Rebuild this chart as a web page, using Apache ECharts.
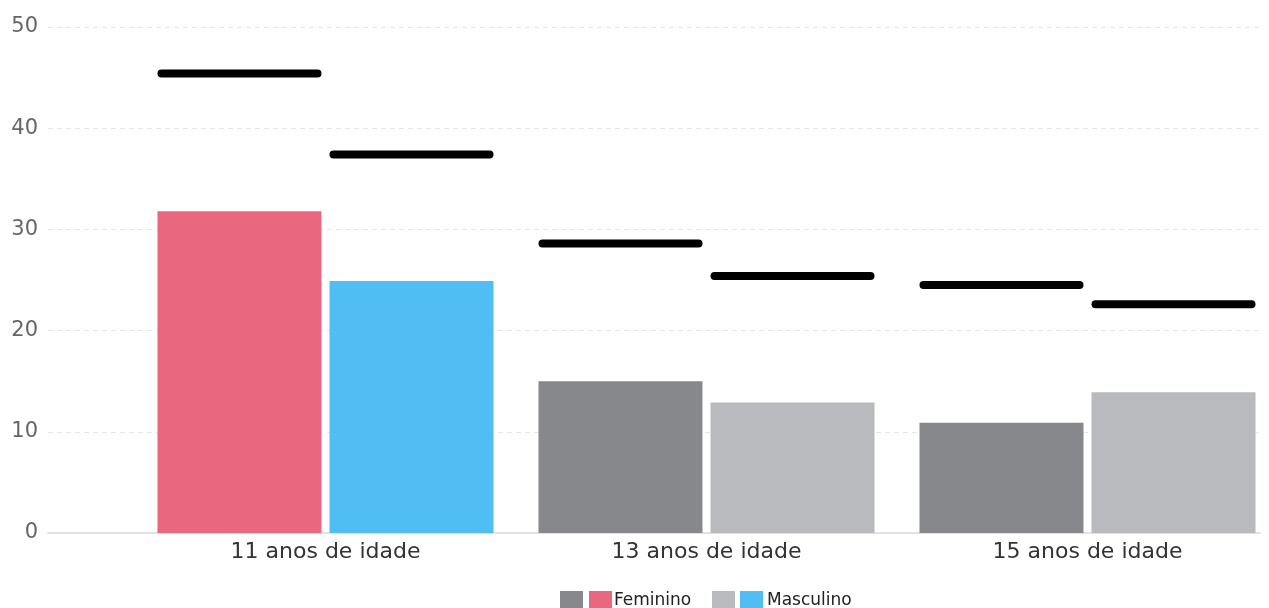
<!DOCTYPE html>
<html>
<head>
<meta charset="utf-8">
<script src="https://cdn.jsdelivr.net/npm/echarts@6/dist/echarts.min.js"></script>
<style>
  html, body { margin: 0; padding: 0; background: #fff; overflow: hidden; }
  #chart { width: 1278px; height: 608px; }
</style>
</head>
<body>
<div id="chart"></div>
<script>
// Faixas etárias e percentuais por sexo
const categories = ['11 anos de idade', '13 anos de idade', '15 anos de idade'];
const feminino = [31.8, 15.0, 10.9];
const masculino = [24.9, 12.9, 13.9];
// Valores de referência (traços pretos sobre cada barra)
const refFeminino = [45.4, 28.6, 24.5];
const refMasculino = [37.4, 25.4, 22.6];
const yTicks = [0, 10, 20, 30, 40, 50];

const femColors = ['#e9687f', '#86888b', '#86888b'];
const mascColors = ['#50bef2', '#b8babd', '#b8babd'];

const FONT = 'DejaVu Sans';
const BAR_W = 164;
const BAR_GAP = 8;

const chart = echarts.init(document.getElementById('chart'));

function refSeries(name, values, side) {
  return {
    name: name,
    type: 'custom',
    xAxisIndex: 1,
    yAxisIndex: 1,
    silent: true,
    z: 5,
    data: values.map((v, i) => [i, v]),
    renderItem: function (params, api) {
      const p = api.coord([api.value(0), api.value(1)]);
      const cx = p[0] + side * (BAR_W + BAR_GAP) / 2;
      return {
        type: 'line',
        shape: { x1: cx - BAR_W / 2 + 4, y1: p[1], x2: cx + BAR_W / 2 - 4, y2: p[1] },
        style: { stroke: '#000', lineWidth: 8, lineCap: 'round' }
      };
    }
  };
}

const option = {
  animation: false,
  backgroundColor: '#fff',
  grid: [
    { left: 48, right: 18, top: 27, bottom: 75, containLabel: false },
    { left: 135, width: 1143, top: 27, bottom: 75, containLabel: false }
  ],
  xAxis: [
    {
      gridIndex: 0, type: 'value', min: 0, max: 1,
      axisLine: { show: true, lineStyle: { color: '#dde4e2', width: 2 } },
      axisTick: { show: false }, axisLabel: { show: false }, splitLine: { show: false }
    },
    {
      gridIndex: 1, type: 'category', data: categories,
      axisLine: { show: false }, axisTick: { show: false },
      axisLabel: { color: '#333', fontFamily: FONT, fontSize: 22, margin: 8 }
    }
  ],
  yAxis: [
    {
      gridIndex: 0, type: 'value', min: yTicks[0], max: yTicks[yTicks.length - 1], interval: 10,
      axisLine: { show: false }, axisTick: { show: false },
      axisLabel: { color: '#666', fontFamily: FONT, fontSize: 21, margin: 10 },
      splitLine: { show: true, lineStyle: { color: '#e6e6e6', type: [5, 4], width: 1 } }
    },
    {
      gridIndex: 1, type: 'value', min: 0, max: 50, show: false,
      splitLine: { show: false }
    }
  ],
  series: [
    {
      name: 'Feminino', type: 'bar', xAxisIndex: 1, yAxisIndex: 1,
      barWidth: BAR_W, barGap: (BAR_GAP / BAR_W * 100).toFixed(1) + '%',
      data: feminino.map((v, i) => ({ value: v, itemStyle: { color: femColors[i] } }))
    },
    {
      name: 'Masculino', type: 'bar', xAxisIndex: 1, yAxisIndex: 1,
      barWidth: BAR_W,
      data: masculino.map((v, i) => ({ value: v, itemStyle: { color: mascColors[i] } }))
    },
    refSeries('Referência Feminino', refFeminino, -1),
    refSeries('Referência Masculino', refMasculino, 1)
  ],
  graphic: [
    { type: 'rect', left: 560, top: 591, shape: { width: 23, height: 17 }, style: { fill: '#86888b' } },
    { type: 'rect', left: 589, top: 591, shape: { width: 23, height: 17 }, style: { fill: '#e9687f' } },
    { type: 'text', left: 614, top: 592, style: { text: 'Feminino', fill: '#222', font: '17px "DejaVu Sans"' } },
    { type: 'rect', left: 712, top: 591, shape: { width: 23, height: 17 }, style: { fill: '#b8babd' } },
    { type: 'rect', left: 740, top: 591, shape: { width: 23, height: 17 }, style: { fill: '#50bef2' } },
    { type: 'text', left: 767, top: 592, style: { text: 'Masculino', fill: '#222', font: '17px "DejaVu Sans"' } }
  ]
};

chart.setOption(option);
</script>
</body>
</html>
